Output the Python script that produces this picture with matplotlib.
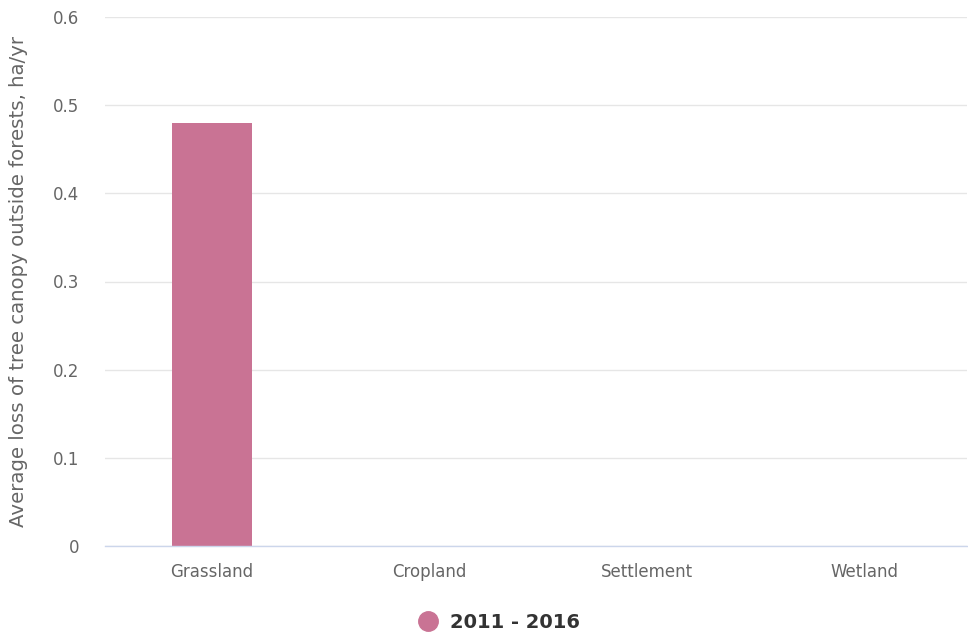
import matplotlib
matplotlib.use("Agg")
import matplotlib.pyplot as plt
from matplotlib.lines import Line2D

categories = ["Grassland", "Cropland", "Settlement", "Wetland"]
series_name = "2011 - 2016"
values = [0.48, 0, 0, 0]
yticks = [0, 0.1, 0.2, 0.3, 0.4, 0.5, 0.6]
ytick_labels = ["0", "0.1", "0.2", "0.3", "0.4", "0.5", "0.6"]

plt.rcParams['font.family'] = ['DejaVu Sans']
W, H = 968, 641
fig = plt.figure(figsize=(W / 100, H / 100), dpi=100)
ax = fig.add_axes([105 / W, 1 - 546 / H, (967 - 105) / W, (546 - 17) / H])

color = "#c97394"
ax.bar(range(len(categories)), values, width=0.367, color=color, zorder=3)
ax.set_xlim(-0.49, 3.47)
ax.set_ylim(0, 0.6)
ax.set_yticks(yticks)
ax.set_yticklabels(ytick_labels)
ax.set_xticks(range(len(categories)))
ax.set_xticklabels(categories)

ax.grid(axis="y", color="#e6e6e6", linewidth=1, zorder=0)
for s in ["top", "right", "left"]:
    ax.spines[s].set_visible(False)
ax.spines["bottom"].set_color("#ccd6eb")
ax.spines["bottom"].set_linewidth(1)
ax.spines["bottom"].set_zorder(4)
ax.tick_params(axis="both", length=0, colors="#666666", labelsize=12)
ax.tick_params(axis="y", pad=18.5)
ax.tick_params(axis="x", pad=12.5)

ax.set_ylabel("Average loss of tree canopy outside forests, ha/yr",
              color="#666666", fontsize=14.2)
ax.yaxis.set_label_coords(-77 / (967 - 105), 0.5)

handle = Line2D([], [], marker="o", linestyle="none", markersize=14,
                markerfacecolor=color, markeredgecolor=color)
leg = fig.legend([handle], [series_name], loc="center", bbox_to_anchor=(494 / W, 1 - 622 / H),
                 frameon=False, handletextpad=0.15, prop={"weight": "bold", "size": 14})
for t in leg.get_texts():
    t.set_color("#333333")

fig.savefig("out.png", dpi=100)
